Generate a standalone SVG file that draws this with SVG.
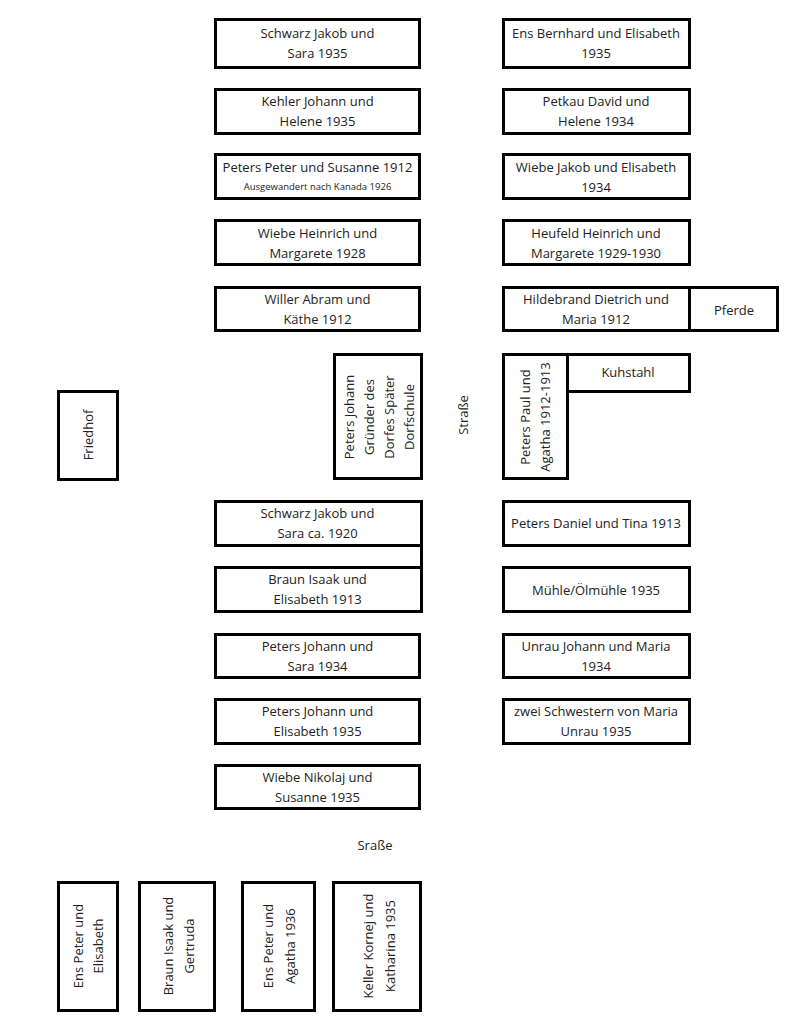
<svg xmlns="http://www.w3.org/2000/svg" width="796" height="1024" viewBox="0 0 796 1024">
<style>
rect{fill:#fff;stroke:#000;stroke-width:3}
text{font-family:"Open Sans","Noto Sans","Liberation Sans",sans-serif;font-size:13px;fill:#222;text-anchor:middle}
.s{font-size:9.5px}
.c{stroke:#000;stroke-width:3;fill:none}
</style>
<rect x="0" y="0" width="796" height="1024" style="stroke:none"/>
<g id="n1"><rect x="215.5" y="19.5" width="204" height="48"/><text x="317.5" y="38">Schwarz Jakob und</text><text x="317.5" y="58">Sara 1935</text></g>
<g id="n2"><rect x="215.5" y="89.5" width="204" height="44"/><text x="317.5" y="106">Kehler Johann und</text><text x="317.5" y="126">Helene 1935</text></g>
<g id="n3"><rect x="215.5" y="154.5" width="204" height="44"/><text x="317.5" y="172">Peters Peter und Susanne 1912</text><text class="s" x="317.5" y="190">Ausgewandert nach Kanada 1926</text></g>
<g id="n4"><rect x="215.5" y="220.5" width="204" height="44"/><text x="317.5" y="238">Wiebe Heinrich und</text><text x="317.5" y="258">Margarete 1928</text></g>
<g id="n5"><rect x="215.5" y="287.5" width="204" height="43"/><text x="317.5" y="304">Willer Abram und</text><text x="317.5" y="324">Käthe 1912</text></g>

<g id="r1"><rect x="503.5" y="19.5" width="186" height="48"/><text x="596" y="38">Ens Bernhard und Elisabeth</text><text x="596" y="58">1935</text></g>
<g id="r2"><rect x="503.5" y="89.5" width="186" height="44"/><text x="596" y="106">Petkau David und</text><text x="596" y="126">Helene 1934</text></g>
<g id="r3"><rect x="503.5" y="154.5" width="186" height="44"/><text x="596" y="172">Wiebe Jakob und Elisabeth</text><text x="596" y="192">1934</text></g>
<g id="r4"><rect x="503.5" y="220.5" width="186" height="44"/><text x="596" y="238">Heufeld Heinrich und</text><text x="596" y="258">Margarete 1929-1930</text></g>
<g id="r5"><rect x="503.5" y="287.5" width="186" height="43"/><text x="596" y="304">Hildebrand Dietrich und</text><text x="596" y="324">Maria 1912</text></g>
<g id="pferde"><rect x="689.5" y="287.5" width="88" height="43"/><text x="734" y="315">Pferde</text></g>

<g id="petersjohann"><rect x="334.5" y="354.5" width="87" height="124"/>
<g transform="translate(378,417) rotate(-90)"><text x="0" y="-29" dominant-baseline="central">Peters Johann</text><text x="0" y="-9" dominant-baseline="central">Gründer des</text><text x="0" y="11" dominant-baseline="central">Dorfes Später</text><text x="0" y="31" dominant-baseline="central">Dorfschule</text></g></g>
<g id="strasse1"><text transform="translate(463,415) rotate(-90)" dominant-baseline="central">Straße</text></g>
<g id="peterspaul"><rect x="503.5" y="354.5" width="64" height="124"/>
<g transform="translate(535,417) rotate(-90)"><text x="0" y="-10" dominant-baseline="central">Peters Paul und</text><text x="0" y="10" dominant-baseline="central">Agatha 1912-1913</text></g></g>
<g id="kuhstahl"><rect x="567.5" y="354.5" width="122" height="37"/><text x="628" y="377">Kuhstahl</text></g>
<g id="friedhof"><rect x="58.5" y="391.5" width="59" height="88"/><text transform="translate(88,435) rotate(-90)" dominant-baseline="central">Friedhof</text></g>

<g id="n6"><rect x="215.5" y="501.5" width="206" height="44"/><text x="317.5" y="518">Schwarz Jakob und</text><text x="317.5" y="538">Sara ca. 1920</text></g>
<g id="n7"><rect x="215.5" y="567.5" width="206" height="44"/><text x="317.5" y="584">Braun Isaak und</text><text x="317.5" y="604">Elisabeth 1913</text></g>
<g id="n8"><rect x="215.5" y="634.5" width="204" height="43"/><text x="317.5" y="651">Peters Johann und</text><text x="317.5" y="671">Sara 1934</text></g>
<g id="n9"><rect x="215.5" y="699.5" width="204" height="44"/><text x="317.5" y="716">Peters Johann und</text><text x="317.5" y="736">Elisabeth 1935</text></g>
<g id="n10"><rect x="215.5" y="765.5" width="204" height="43"/><text x="317.5" y="782">Wiebe Nikolaj und</text><text x="317.5" y="802">Susanne 1935</text></g>

<g id="r6"><rect x="503.5" y="501.5" width="186" height="44"/><text x="596" y="528">Peters Daniel und Tina 1913</text></g>
<g id="r7"><rect x="503.5" y="567.5" width="186" height="44"/><text x="596" y="595">Mühle/Ölmühle 1935</text></g>
<g id="r8"><rect x="503.5" y="634.5" width="186" height="43"/><text x="596" y="651">Unrau Johann und Maria</text><text x="596" y="671">1934</text></g>
<g id="r9"><rect x="503.5" y="699.5" width="186" height="44"/><text x="596" y="716">zwei Schwestern von Maria</text><text x="596" y="736">Unrau 1935</text></g>

<g id="strasse2"><text x="375" y="850">Sraße</text></g>

<g id="b1"><rect x="58.5" y="882.5" width="59" height="128"/><g transform="translate(88,946) rotate(-90)"><text x="0" y="-10" dominant-baseline="central">Ens Peter und</text><text x="0" y="10" dominant-baseline="central">Elisabeth</text></g></g>
<g id="b2"><rect x="139.5" y="882.5" width="75" height="128"/><g transform="translate(178,946) rotate(-90)"><text x="0" y="-10" dominant-baseline="central">Braun Isaak und</text><text x="0" y="11" dominant-baseline="central">Gertruda</text></g></g>
<g id="b3"><rect x="242.5" y="882.5" width="72" height="128"/><g transform="translate(279,946) rotate(-90)"><text x="0" y="-11" dominant-baseline="central">Ens Peter und</text><text x="0" y="11" dominant-baseline="central">Agatha 1936</text></g></g>
<g id="b4"><rect x="333.5" y="882.5" width="87" height="128"/><g transform="translate(379,946) rotate(-90)"><text x="0" y="-11" dominant-baseline="central">Keller Kornej und</text><text x="0" y="11" dominant-baseline="central">Katharina 1935</text></g></g>

<g id="connectors"><line class="c" x1="421.5" y1="545" x2="421.5" y2="568"/></g>
</svg>
